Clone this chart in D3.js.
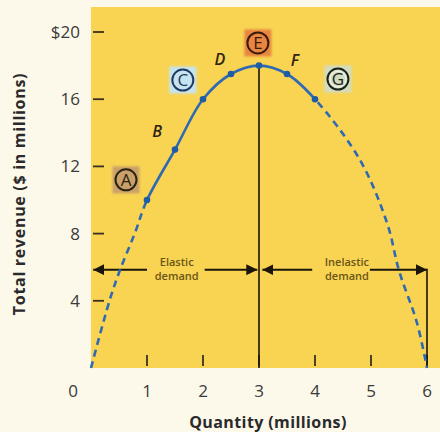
<!DOCTYPE html>
<html>
<head>
<meta charset="utf-8">
<script src="https://cdn.jsdelivr.net/npm/d3@7"></script>
<style>
  body { margin:0; background:#fdf9ea; }
  svg { display:block; }
</style>
</head>
<body>
<div id="chart"></div>
<script>
// data
var revenuePts = [
    {q:0,    tr:0},
    {q:0.33, tr:4},
    {q:0.52, tr:5.85},
    {q:0.78, tr:8},
    {q:1,    tr:10},
    {q:1.5,  tr:13},
    {q:2,    tr:16},
    {q:2.5,  tr:17.5},
    {q:3,    tr:18},
    {q:3.5,  tr:17.5},
    {q:4,    tr:16},
    {q:4.8,  tr:12.4},
    {q:5.29, tr:8.6},
    {q:5.5,  tr:5.8},
    {q:5.82, tr:2.7},
    {q:6,    tr:0}
];
var markedQ = [1, 1.5, 2, 2.5, 3, 3.5, 4];
var xTicks = [1, 2, 3, 4, 5, 6];
var yTicks = [4, 8, 12, 16, 20];
var yTickLabels = ["4", "8", "12", "16", "$20"];

// letter labels (position in data units)
var plainLabels = [
    {t:"B", q:1.18, tr:14.1},
    {t:"D", q:2.3,  tr:18.4},
    {t:"F", q:3.64, tr:18.33}
];
var badges = [
    {t:"A", q:0.625, tr:11.2,  bg:"#c9a06a", ring:"#2b2210"},
    {t:"C", q:1.64,  tr:17.14, bg:"#c6e4f0", ring:"#203a66"},
    {t:"E", q:2.98,  tr:19.35, bg:"#e8853f", ring:"#3a1a0a"},
    {t:"G", q:4.41,  tr:17.2,  bg:"#d3dcc2", ring:"#1c2418"}
];
var arrowLevel = 5.85;

var W = 440, H = 432;
var FONT = "'Open Sans', Lato, sans-serif";
var x = d3.scaleLinear().domain([0, 6]).range([91, 427]);
var y = d3.scaleLinear().domain([0, 20]).range([368, 32]);

var svg = d3.select("#chart")
            .append("svg")
            .attr("width", W)
            .attr("height", H);

var defs = svg.append("defs");
defs.append("marker")
    .attr("id", "head")
    .attr("viewBox", "0 0 10 10")
    .attr("refX", 10)
    .attr("refY", 5)
    .attr("markerWidth", 5.5)
    .attr("markerHeight", 5.5)
    .attr("orient", "auto-start-reverse")
    .append("path")
    .attr("d", "M0,0 L10,5 L0,10 z")
    .attr("fill", "#1a140a");
var blur = defs.append("filter").attr("id", "soft");
blur.append("feGaussianBlur").attr("stdDeviation", 1.2);

// clip regions: solid between q=1 and q=4, dashed outside
defs.append("clipPath").attr("id", "solidPart")
    .append("rect")
    .attr("x", x(1)).attr("y", 0)
    .attr("width", x(4) - x(1)).attr("height", H);
var dc = defs.append("clipPath").attr("id", "dashPart");
dc.append("rect")
    .attr("x", 0).attr("y", 0)
    .attr("width", x(1)).attr("height", H);
dc.append("rect")
    .attr("x", x(4)).attr("y", 0)
    .attr("width", W - x(4)).attr("height", H);

svg.append("rect")
    .attr("width", W).attr("height", H)
    .attr("fill", "#fdf9ea");

// yellow plot area
svg.append("rect")
    .attr("x", x(0))
    .attr("y", 7)
    .attr("width", W - x(0))
    .attr("height", y(0) - 7)
    .attr("fill", "#f8d452");

// y ticks
svg.selectAll(".ytick")
    .data(yTicks)
    .enter()
    .append("line")
    .attr("x1", x(0) + 2)
    .attr("x2", x(0) + 13)
    .attr("y1", function(d){ return y(d); })
    .attr("y2", function(d){ return y(d); })
    .attr("stroke", "#3b3020")
    .attr("stroke-width", 1.8);

svg.selectAll(".ylab")
    .data(yTicks)
    .enter()
    .append("text")
    .attr("x", 80)
    .attr("y", function(d){ return y(d) + 6; })
    .attr("text-anchor", "end")
    .attr("font-family", FONT)
    .attr("font-size", 17)
    .attr("fill", "#3a3a3a")
    .text(function(d, i){ return yTickLabels[i]; });

// x ticks
svg.selectAll(".xtick")
    .data(xTicks)
    .enter()
    .append("line")
    .attr("x1", function(d){ return x(d); })
    .attr("x2", function(d){ return x(d); })
    .attr("y1", y(0) - 13)
    .attr("y2", y(0) - 2)
    .attr("stroke", "#3b3020")
    .attr("stroke-width", 1.8);

svg.selectAll(".xlab")
    .data([0].concat(xTicks))
    .enter()
    .append("text")
    .attr("x", function(d){ return d === 0 ? 73 : x(d); })
    .attr("y", 397)
    .attr("text-anchor", "middle")
    .attr("font-family", FONT)
    .attr("font-size", 17)
    .attr("fill", "#3a3a3a")
    .text(function(d){ return d; });

// axis titles
svg.append("text")
    .attr("x", 268)
    .attr("y", 428)
    .attr("text-anchor", "middle")
    .attr("font-family", FONT)
    .attr("font-weight", "bold")
    .attr("font-size", 16)
    .attr("letter-spacing", 0.4)
    .attr("fill", "#2a2a2a")
    .text("Quantity (millions)");

svg.append("text")
    .attr("transform", "translate(25,194) rotate(-90)")
    .attr("text-anchor", "middle")
    .attr("font-family", FONT)
    .attr("font-weight", "bold")
    .attr("font-size", 16)
    .attr("letter-spacing", 0.7)
    .attr("fill", "#2a2a2a")
    .text("Total revenue ($ in millions)");

// vertical line at unit elasticity
svg.append("line")
    .attr("x1", x(3)).attr("x2", x(3))
    .attr("y1", y(18)).attr("y2", y(0))
    .attr("stroke", "#1a140a")
    .attr("stroke-width", 1.6);

// arrows
var arrows = [
    {from:1.0,  to:0.04},
    {from:2.03, to:2.97},
    {from:3.95, to:3.06},
    {from:4.98, to:6}
];
svg.selectAll(".arrow")
    .data(arrows)
    .enter()
    .append("line")
    .attr("x1", function(d){ return x(d.from); })
    .attr("x2", function(d){ return x(d.to); })
    .attr("y1", y(arrowLevel))
    .attr("y2", y(arrowLevel))
    .attr("stroke", "#1a140a")
    .attr("stroke-width", 2)
    .attr("marker-end", "url(#head)");

svg.append("line")
    .attr("x1", x(6)).attr("x2", x(6))
    .attr("y1", y(arrowLevel) - 1).attr("y2", y(0))
    .attr("stroke", "#1a140a")
    .attr("stroke-width", 1.6);

var notes = [
    {q:1.53, lines:["Elastic", "demand"]},
    {q:4.57, lines:["Inelastic", "demand"]}
];
notes.forEach(function(n){
    n.lines.forEach(function(l, i){
        svg.append("text")
            .attr("x", x(n.q))
            .attr("y", y(arrowLevel) - 4 + i * 14)
            .attr("text-anchor", "middle")
            .attr("font-family", FONT)
            .attr("font-weight", 600)
            .attr("font-size", 11)
            .attr("fill", "#6a5518")
            .text(l);
    });
});

// curve
var line = d3.line()
    .x(function(d){ return x(d.q); })
    .y(function(d){ return y(d.tr); })
    .curve(d3.curveCatmullRom.alpha(0.5));

svg.append("path")
    .attr("d", line(revenuePts))
    .attr("clip-path", "url(#dashPart)")
    .attr("fill", "none")
    .attr("stroke", "#2f69b3")
    .attr("stroke-width", 2.6)
    .attr("stroke-dasharray", "7,5");

svg.append("path")
    .attr("d", line(revenuePts))
    .attr("clip-path", "url(#solidPart)")
    .attr("fill", "none")
    .attr("stroke", "#2f69b3")
    .attr("stroke-width", 2.6);

svg.selectAll(".pt")
    .data(revenuePts.filter(function(d){ return markedQ.indexOf(d.q) >= 0; }))
    .enter()
    .append("circle")
    .attr("cx", function(d){ return x(d.q); })
    .attr("cy", function(d){ return y(d.tr); })
    .attr("r", 3.3)
    .attr("fill", "#1f5ca6");

// plain letters
svg.selectAll(".plain")
    .data(plainLabels)
    .enter()
    .append("text")
    .attr("x", function(d){ return x(d.q); })
    .attr("y", function(d){ return y(d.tr) + 6; })
    .attr("text-anchor", "middle")
    .attr("font-family", FONT)
    .attr("font-style", "italic")
    .attr("font-weight", 600)
    .attr("font-size", 16)
    .attr("fill", "#2e2410")
    .text(function(d){ return d.t; });

// circled letters
var b = svg.selectAll(".badge")
    .data(badges)
    .enter()
    .append("g")
    .attr("transform", function(d){ return "translate(" + x(d.q) + "," + y(d.tr) + ")"; });

b.append("rect")
    .attr("x", -13.5).attr("y", -13.5)
    .attr("width", 27).attr("height", 27)
    .attr("fill", function(d){ return d.bg; })
    .attr("filter", "url(#soft)");

b.append("circle")
    .attr("r", 10.5)
    .attr("fill", "none")
    .attr("stroke", function(d){ return d.ring; })
    .attr("stroke-width", 2);

b.filter(function(d){ return d.t === "G"; })
    .append("circle")
    .attr("r", 8)
    .attr("fill", "none")
    .attr("stroke", "#f4f4ea")
    .attr("stroke-width", 1.2);

b.append("text")
    .attr("y", 6)
    .attr("text-anchor", "middle")
    .attr("font-family", FONT)
    .attr("font-size", 17)
    .attr("fill", function(d){ return d.ring; })
    .text(function(d){ return d.t; });
</script>
</body>
</html>
